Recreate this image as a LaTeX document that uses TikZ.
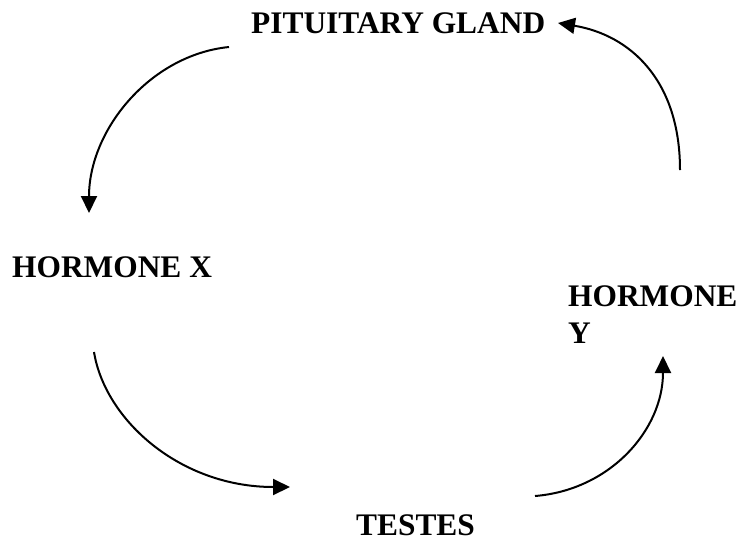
\documentclass[tikz,border=0pt]{standalone}
\usepackage{fontspec}
\setmainfont{Liberation Serif}
\usetikzlibrary{arrows.meta}
\begin{document}
\begin{tikzpicture}[x=1pt,y=-1pt,
  lbl/.style={inner sep=0pt,anchor=base west,font=\fontsize{31.4}{37}\selectfont\bfseries,align=left},
  conn/.style={line width=2pt,-{Triangle[length=17pt,width=16pt]}}]
\useasboundingbox (0,0) rectangle (741,544);
\node[lbl] (pg) at (251,33) {PITUITARY GLAND};
\node[lbl] (hx) at (12,277) {HORMONE X};
\node[lbl] (hy) at (568,343) {HORMONE\\Y};
\node[lbl] (ts) at (356,535) {TESTES};
\coordinate (a1s) at (229,47);
\coordinate (a1e) at (89,213);
\coordinate (a2s) at (680,170);
\coordinate (a2e) at (558,23);
\coordinate (a3s) at (94,352);
\coordinate (a3e) at (290,487);
\coordinate (a4s) at (535,496);
\coordinate (a4e) at (663,356);
\draw[conn] (a1s) .. controls (150,55) and (89,130) .. (a1e);
\draw[conn] (a2s) .. controls (680,80) and (630,35) .. (a2e);
\draw[conn] (a3s) .. controls (105,420) and (180,487) .. (a3e);
\draw[conn] (a4s) .. controls (610,490) and (663,430) .. (a4e);
\end{tikzpicture}
\end{document}
